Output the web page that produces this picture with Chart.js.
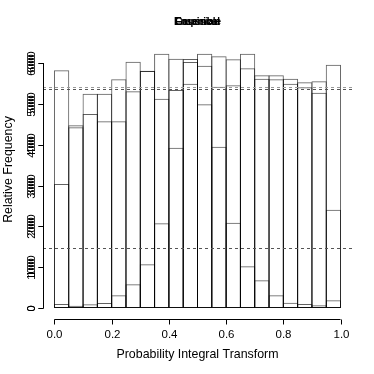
<!DOCTYPE html>
<html>
<head>
<meta charset="utf-8">
<script src="https://cdn.jsdelivr.net/npm/chart.js@4.4.1/dist/chart.umd.min.js"></script>
<style>
  html, body { margin: 0; padding: 0; background: #fff; }
  #wrap { width: 374px; height: 374px; }
</style>
</head>
<body>
<div id="wrap"><canvas id="pit" width="374" height="374"></canvas></div>
<script>
// ====== Datos ======
// centros de las 20 clases del histograma PIT
const binMids = [0.025, 0.075, 0.125, 0.175, 0.225, 0.275, 0.325, 0.375, 0.425, 0.475,
                 0.525, 0.575, 0.625, 0.675, 0.725, 0.775, 0.825, 0.875, 0.925, 0.975];

// dos histogramas casi planos (escala 0-6000)
const ensembleCounts = [5821, 4474, 5248, 5248, 5601, 6032, 5812, 6228, 6105, 6025,
                        6228, 6164, 6091, 6228, 5699, 5699, 5616, 5527, 5552, 5958];
const gaussianCounts = [3037, 4425, 4751, 4572, 4572, 5307, 5804, 5126, 5339, 5493,
                        5934, 5420, 5454, 5870, 5616, 5601, 5493, 5405, 5273, 2407];
// histograma en joroba (escala 0-600)
const empiricalCounts = [9.8, 5.6, 9.1, 12.2, 31.1, 58.0, 107.0, 207.4, 392.6, 609.8,
                         498.9, 395.0, 208.9, 102.1, 67.8, 31.1, 13.0, 9.8, 6.6, 18.9];

// líneas de frecuencia esperada (uniforme)
const expectedLarge = [5412, 5363];
const expectedSmall = [146.9];

// etiquetas de ejes
const xTicks = [0, 0.2, 0.4, 0.6, 0.8, 1.0];
const yTicksSmall = [0, 100, 200, 300, 400, 500, 600];
const yTicksLarge = [0, 1000, 2000, 3000, 4000, 5000, 6000];
const titles = ['Ensemble', 'Gaussian', 'Empirical'];

const FONT = '"Liberation Sans", Arial, Helvetica, sans-serif';
const LINE = 'rgba(0,0,0,0.62)';

// ====== Plugin: ejes estilo R, títulos y líneas de referencia ======
const rAxes = {
  id: 'rAxes',
  afterDatasetsDraw(chart) {
    const { ctx, chartArea: a, scales } = chart;
    const x = scales.x, y = scales.y, y2 = scales.y2;
    ctx.save();

    // líneas punteadas de frecuencia esperada
    ctx.lineWidth = 1;
    ctx.setLineDash([3, 3]);
    expectedLarge.forEach((v, i) => {
      const py = Math.round(y2.getPixelForValue(v)) + 0.5;
      ctx.strokeStyle = i === 0 ? '#999' : '#555';
      ctx.beginPath(); ctx.moveTo(a.left, py); ctx.lineTo(a.right, py); ctx.stroke();
    });
    expectedSmall.forEach(v => {
      const py = Math.round(y.getPixelForValue(v)) + 0.5;
      ctx.strokeStyle = '#555';
      ctx.beginPath(); ctx.moveTo(a.left, py); ctx.lineTo(a.right, py); ctx.stroke();
    });
    ctx.setLineDash([]);

    // eje x
    ctx.strokeStyle = '#000';
    ctx.fillStyle = '#000';
    const ax = a.bottom + 0.5;
    ctx.beginPath();
    ctx.moveTo(x.getPixelForValue(xTicks[0]), ax);
    ctx.lineTo(x.getPixelForValue(xTicks[xTicks.length - 1]), ax);
    ctx.stroke();
    ctx.font = '11.5px ' + FONT;
    ctx.textAlign = 'center';
    ctx.textBaseline = 'middle';
    xTicks.forEach(t => {
      const px = Math.round(x.getPixelForValue(t)) + 0.5;
      ctx.beginPath(); ctx.moveTo(px, ax); ctx.lineTo(px, ax + 5); ctx.stroke();
      ctx.fillText(t.toFixed(1), px, ax + 15);
    });
    ctx.font = '12.4px ' + FONT;
    ctx.fillText('Probability Integral Transform', (a.left + a.right) / 2, ax + 35);

    // eje y
    const ay = a.left + 0.5;
    ctx.beginPath();
    ctx.moveTo(ay, y.getPixelForValue(yTicksSmall[0]));
    ctx.lineTo(ay, y.getPixelForValue(yTicksSmall[yTicksSmall.length - 1]));
    ctx.stroke();
    ctx.font = '11px ' + FONT;
    const drawYTicks = (scale, ticks) => {
      ticks.forEach(t => {
        const py = Math.round(scale.getPixelForValue(t)) + 0.5;
        ctx.beginPath(); ctx.moveTo(ay, py); ctx.lineTo(ay - 5, py); ctx.stroke();
        ctx.save();
        ctx.translate(ay - 12, py);
        ctx.rotate(-Math.PI / 2);
        ctx.fillText(String(t), 0, 0);
        ctx.restore();
      });
    };
    drawYTicks(y, yTicksSmall);
    drawYTicks(y2, yTicksLarge);

    ctx.save();
    ctx.font = '12.4px ' + FONT;
    ctx.translate(9, (a.top + a.bottom) / 2 - 10);
    ctx.rotate(-Math.PI / 2);
    ctx.fillText('Relative Frequency', 0, 0);
    ctx.restore();

    // títulos superpuestos
    ctx.font = 'bold 10px ' + FONT;
    titles.forEach(t => ctx.fillText(t, (a.left + a.right) / 2, 22));

    ctx.restore();
  }
};

// ====== Gráfico ======
const toPoints = arr => binMids.map((m, i) => ({ x: m, y: arr[i] }));
const barStyle = {
  backgroundColor: 'rgba(0,0,0,0)',
  borderColor: LINE,
  borderWidth: 1,
  borderSkipped: false,
  grouped: false,
  barPercentage: 1.07,
  categoryPercentage: 1
};

new Chart(document.getElementById('pit'), {
  type: 'bar',
  data: {
    datasets: [
      { label: titles[0], data: toPoints(ensembleCounts), yAxisID: 'y2', ...barStyle },
      { label: titles[1], data: toPoints(gaussianCounts), yAxisID: 'y2', ...barStyle },
      { label: titles[2], data: toPoints(empiricalCounts), yAxisID: 'y', ...barStyle }
    ]
  },
  options: {
    responsive: false,
    animation: false,
    layout: { padding: { left: 43, right: 22, top: 40, bottom: 55 } },
    scales: {
      x: { type: 'linear', min: -0.04, max: 1.04, offset: false, display: false },
      y: { min: -26.9, max: 656.4, display: false },
      y2: { min: -269, max: 6564, display: false }
    },
    plugins: { legend: { display: false }, tooltip: { enabled: false } }
  },
  plugins: [rAxes]
});
</script>
</body>
</html>
